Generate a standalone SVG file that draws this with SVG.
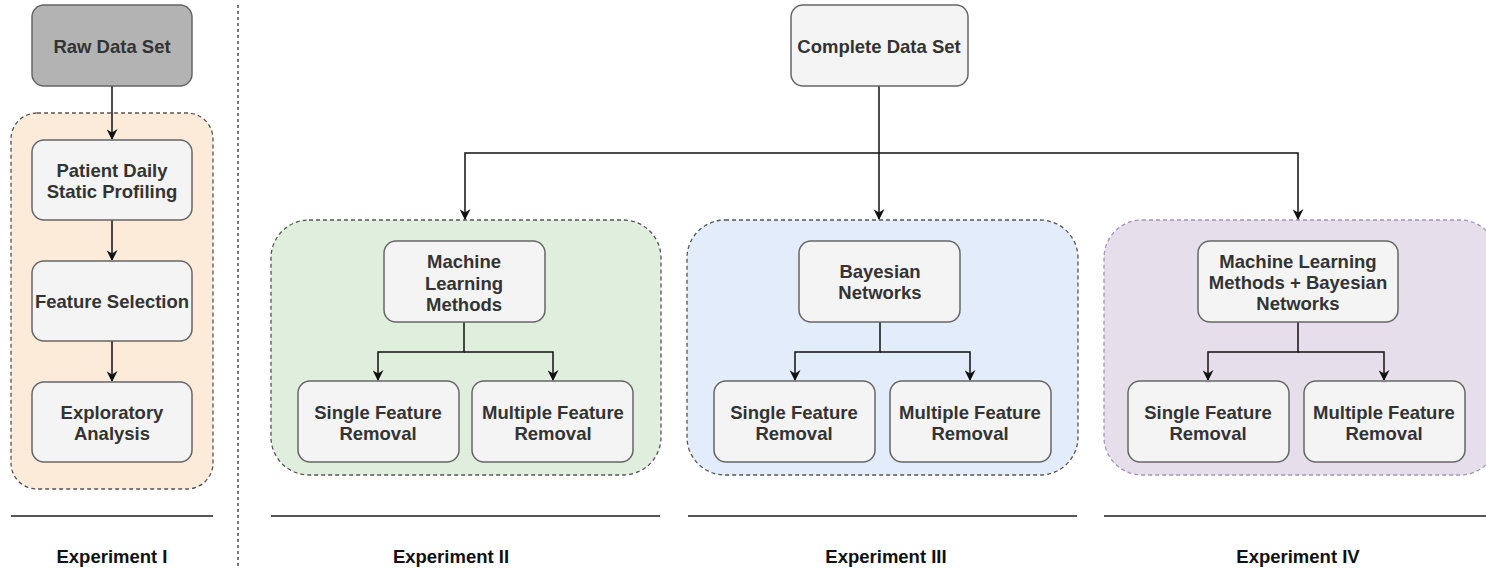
<svg xmlns="http://www.w3.org/2000/svg" width="1486" height="568" viewBox="0 0 1486 568">
  <style>
    .box { fill: #f4f4f4; stroke: #666666; stroke-width: 1.5; }
    .raw { fill: #b3b3b3; stroke: #666666; stroke-width: 1.5; }
    .group { stroke-width: 1.3; stroke-dasharray: 4 3; }
    .lbl { font-family: "Liberation Sans", Arial, sans-serif; font-weight: bold; font-size: 18.5px; fill: #333333; text-anchor: middle; }
    .exp { font-family: "Liberation Sans", Arial, sans-serif; font-weight: bold; font-size: 18.5px; fill: #111111; text-anchor: middle; }
    .wire { fill: none; stroke: #111111; stroke-width: 1.5; }
    .rule { stroke: #555555; stroke-width: 2; }
  </style>
  <defs>
    <marker id="arrow" viewBox="0 0 10 10" refX="9" refY="5" markerWidth="11" markerHeight="11" markerUnits="userSpaceOnUse" orient="auto">
      <path d="M0,0 L10,5 L0,10 L3,5 Z" fill="#111111"/>
    </marker>
  </defs>

  <rect width="1486" height="568" fill="#ffffff"/>

  <!-- group panels -->
  <g id="panel-exp1"><rect class="group" x="11" y="113" width="202" height="376" rx="26" fill="#fdebd9" stroke="#555555"/></g>
  <g id="panel-exp2"><rect class="group" x="271" y="220" width="390" height="255" rx="38" fill="#e0eedd" stroke="#555555"/></g>
  <g id="panel-exp3"><rect class="group" x="687" y="220" width="391" height="255" rx="38" fill="#e3ecfa" stroke="#555555"/></g>
  <g id="panel-exp4"><rect class="group" x="1104" y="220" width="394" height="255" rx="38" fill="#e6dfeb" stroke="#a592b5"/></g>

  <!-- separator between experiment I and the rest -->
  <line x1="238" y1="5" x2="238" y2="566" stroke="#333333" stroke-width="1.3" stroke-dasharray="3 3"/>

  <!-- connectors -->
  <g id="connectors">
    <path class="wire" d="M112,86 V139" marker-end="url(#arrow)"/>
    <path class="wire" d="M112,220 V260" marker-end="url(#arrow)"/>
    <path class="wire" d="M112,341 V381" marker-end="url(#arrow)"/>

    <path class="wire" d="M879,86 V219" marker-end="url(#arrow)"/>
    <path class="wire" d="M879,153 H465 V219" marker-end="url(#arrow)"/>
    <path class="wire" d="M879,153 H1298 V219" marker-end="url(#arrow)"/>

    <path class="wire" d="M464,322 V352 H378 V380" marker-end="url(#arrow)"/>
    <path class="wire" d="M464,352 H553 V380" marker-end="url(#arrow)"/>

    <path class="wire" d="M880,322 V352 H795 V380" marker-end="url(#arrow)"/>
    <path class="wire" d="M880,352 H970 V380" marker-end="url(#arrow)"/>

    <path class="wire" d="M1298,322 V352 H1208 V380" marker-end="url(#arrow)"/>
    <path class="wire" d="M1298,352 H1384 V380" marker-end="url(#arrow)"/>
  </g>

  <!-- experiment I -->
  <g id="raw-data-set"><rect class="raw" x="32" y="5" width="160" height="81" rx="12"/><text class="lbl" x="112" y="53">Raw Data Set</text></g>
  <g id="patient-profiling"><rect class="box" x="32" y="140" width="160" height="80" rx="12"/><text class="lbl" x="112" y="177">Patient Daily</text><text class="lbl" x="112" y="198">Static Profiling</text></g>
  <g id="feature-selection"><rect class="box" x="32" y="261" width="160" height="80" rx="12"/><text class="lbl" x="112" y="308">Feature Selection</text></g>
  <g id="exploratory-analysis"><rect class="box" x="32" y="382" width="160" height="80" rx="12"/><text class="lbl" x="112" y="419">Exploratory</text><text class="lbl" x="112" y="440">Analysis</text></g>

  <!-- shared source -->
  <g id="complete-data-set"><rect class="box" x="791" y="5" width="177" height="81" rx="12"/><text class="lbl" x="879" y="53">Complete Data Set</text></g>

  <!-- experiment II -->
  <g id="ml-methods"><rect class="box" x="384" y="241" width="161" height="81" rx="12"/><text class="lbl" x="464" y="268">Machine</text><text class="lbl" x="464" y="290">Learning</text><text class="lbl" x="464" y="311">Methods</text></g>
  <g id="ml-single"><rect class="box" x="298" y="381" width="161" height="81" rx="12"/><text class="lbl" x="378" y="419">Single Feature</text><text class="lbl" x="378" y="440">Removal</text></g>
  <g id="ml-multiple"><rect class="box" x="472" y="381" width="161" height="81" rx="12"/><text class="lbl" x="553" y="419">Multiple Feature</text><text class="lbl" x="553" y="440">Removal</text></g>

  <!-- experiment III -->
  <g id="bayesian-networks"><rect class="box" x="799" y="241" width="161" height="81" rx="12"/><text class="lbl" x="880" y="278">Bayesian</text><text class="lbl" x="880" y="299">Networks</text></g>
  <g id="bn-single"><rect class="box" x="714" y="381" width="161" height="81" rx="12"/><text class="lbl" x="794" y="419">Single Feature</text><text class="lbl" x="794" y="440">Removal</text></g>
  <g id="bn-multiple"><rect class="box" x="890" y="381" width="161" height="81" rx="12"/><text class="lbl" x="970" y="419">Multiple Feature</text><text class="lbl" x="970" y="440">Removal</text></g>

  <!-- experiment IV -->
  <g id="ml-bn"><rect class="box" x="1198" y="241" width="200" height="81" rx="12"/><text class="lbl" x="1298" y="268">Machine Learning</text><text class="lbl" x="1298" y="289">Methods + Bayesian</text><text class="lbl" x="1298" y="310">Networks</text></g>
  <g id="mlbn-single"><rect class="box" x="1128" y="381" width="161" height="81" rx="12"/><text class="lbl" x="1208" y="419">Single Feature</text><text class="lbl" x="1208" y="440">Removal</text></g>
  <g id="mlbn-multiple"><rect class="box" x="1304" y="381" width="161" height="81" rx="12"/><text class="lbl" x="1384" y="419">Multiple Feature</text><text class="lbl" x="1384" y="440">Removal</text></g>

  <!-- experiment captions -->
  <g id="captions">
    <line class="rule" x1="11" y1="516" x2="213" y2="516"/>
    <line class="rule" x1="271" y1="516" x2="660" y2="516"/>
    <line class="rule" x1="688" y1="516" x2="1077" y2="516"/>
    <line class="rule" x1="1104" y1="516" x2="1486" y2="516"/>
    <text class="exp" x="112" y="563">Experiment I</text>
    <text class="exp" x="451" y="563">Experiment II</text>
    <text class="exp" x="886" y="563">Experiment III</text>
    <text class="exp" x="1298" y="563">Experiment IV</text>
  </g>
</svg>
